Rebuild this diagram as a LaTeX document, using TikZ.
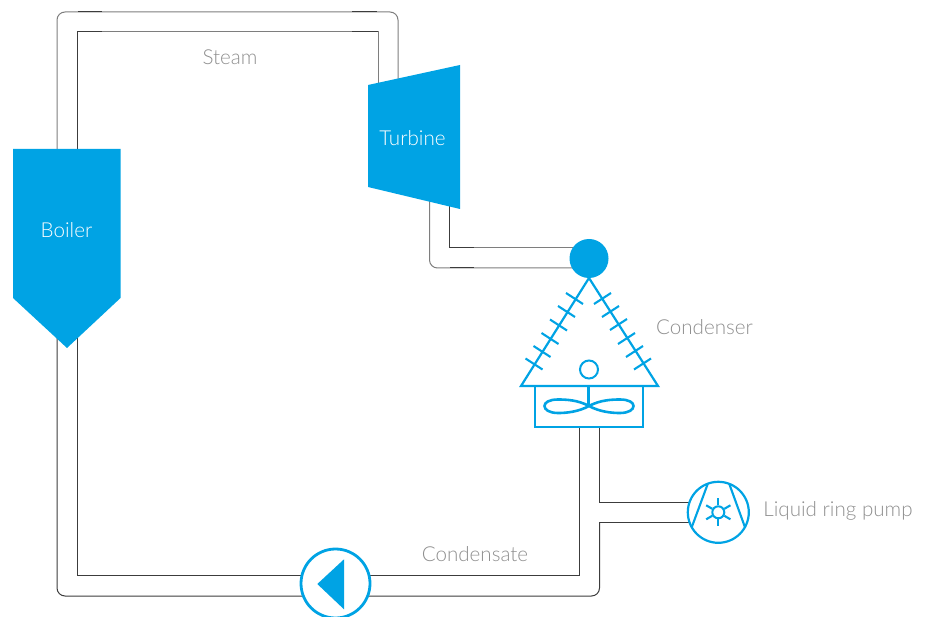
\documentclass[tikz,border=0pt]{standalone}
\usepackage{fontspec}
\setmainfont{Lato Light}
\definecolor{brand}{HTML}{00A3E4}
\definecolor{pipedark}{HTML}{3C3C3C}
\definecolor{pipemid}{HTML}{7E7E7E}
\definecolor{labelgrey}{HTML}{8F8F8F}
\tikzset{
  x=1pt,y=-1pt,
  pipe/.style={draw=pipedark,line width=1pt,line join=miter},
  pipelight/.style={draw=pipemid,line width=1pt},
  solidshape/.style={fill=brand,draw=none},
  outline/.style={draw=brand,line width=2.2pt},
  thinout/.style={draw=brand,line width=2.1pt},
  caption/.style={text=labelgrey,font=\fontsize{20.6}{24}\selectfont,inner sep=0pt},
  whitecaption/.style={text=white,font=\fontsize{20.6}{24}\selectfont,inner sep=0pt},
  fanblade/.style={draw=brand,line width=2.6pt}
}
\begin{document}
\begin{tikzpicture}
\useasboundingbox (0,0) rectangle (928,617);
\clip (0,0) rectangle (928,617);
% named pipe points
\coordinate (boT) at (57,150);
\coordinate (biT) at (77,150);
\coordinate (tlO) at (57,12);
\coordinate (trO) at (398,12);
\coordinate (tlI) at (77,32);
\coordinate (trI) at (378,32);
\coordinate (tuO) at (398,80);
\coordinate (tuI) at (378,90);
\coordinate (boB) at (57,320);
\coordinate (biB) at (77,335);
\coordinate (blO) at (57,596);
\coordinate (blI) at (77,575);
\coordinate (brO) at (599.5,596);
\coordinate (brI) at (579,575);
\coordinate (coI) at (579,428);
\coordinate (coO) at (599.5,428);
\coordinate (jnU) at (599.5,502);
\coordinate (jnD) at (599.5,522);
\coordinate (puU) at (692,502);
\coordinate (puD) at (692,522);
\coordinate (t2O) at (429.5,200);
\coordinate (t2I) at (449.5,200);
\coordinate (c2O) at (429.5,268);
\coordinate (c2I) at (449.5,248);
\coordinate (hdO) at (575,268);
\coordinate (hdI) at (575,248);
% pipes
\draw[pipelight,rounded corners=8pt] (boT) -- (tlO) -- (trO) -- (tuO);
\draw[pipelight] (biT) -- (tlI) -- (trI) -- (tuI);
\draw[pipedark,line width=1pt] (biT) -- (tlI) -- (102,32);
\draw[pipedark,line width=1pt] (352,32) -- (trI);
\draw[pipedark,line width=1pt] (78,12) -- (102,12);
\draw[pipedark,line width=1pt] (352,12) -- (377,12);
\draw[pipe,rounded corners=8pt] (boB) -- (blO) -- (brO) -- (jnD);
\draw[pipe] (jnD) -- (puD);
\draw[pipe] (biB) -- (blI) -- (brI) -- (coI);
\draw[pipe] (coO) -- (jnU) -- (puU);
\draw[pipelight,rounded corners=8pt] (t2O) -- (c2O) -- (hdO);
\draw[pipelight] (t2I) -- (c2I) -- (hdI);
\draw[pipedark,line width=1pt] (t2I) -- (c2I) -- (474,248);
\draw[pipedark,line width=1pt] (450,268) -- (474,268);
% boiler
\path[solidshape] (13,149) -- (120.5,149) -- (120.5,298) -- (67,348) -- (13,298) -- cycle;
\node[whitecaption] (boiler) at (66.5,230) {Boiler};
% turbine
\path[solidshape] (368,85) -- (460,65) -- (460,209) -- (368,187) -- cycle;
\node[whitecaption] (turbine) at (412.5,138) {Turbine};
% header
\node[solidshape,circle,minimum size=39pt,inner sep=0pt] (header) at (589,258.5) {};
% condenser
\draw[outline,line join=miter] (589,278) -- (658,386) -- (521,386) -- cycle;
\foreach \xa/\ya/\xb/\yb in {
 566/293/583/304, 558/306/575/317, 550/319.5/567/330.5,
 541.5/333/558.5/344, 533.5/346/550.5/357, 525.5/358.5/542.5/369.5,
 594/304/611/293, 602/317/619/306, 610/330/627/319,
 618/344/635/333, 626/357/643/346, 634/369.5/651/358.5}
  \draw[thinout] (\xa,\ya) -- (\xb,\yb);
\node[circle,draw=brand,line width=2pt,minimum size=18pt,inner sep=0pt] (condring) at (589,369.5) {};
\draw[outline] (535,386) rectangle (643,427);
\draw[thinout] (588.5,386) -- (588.5,406);
\draw[fanblade] (589,406) .. controls (578,400) and (566,399.5) .. (558,399.5) .. controls (549,399.5) and (544.5,402.5) .. (544.5,406) .. controls (544.5,409.5) and (549,413) .. (558,413) .. controls (566,413) and (578,412) .. (589,406)
  .. controls (600,400) and (612,399.5) .. (620,399.5) .. controls (629,399.5) and (633.5,402.5) .. (633.5,406) .. controls (633.5,409.5) and (629,413) .. (620,413) .. controls (612,413) and (600,412) .. (589,406);
% liquid ring pump
\node[circle,draw=brand,fill=white,line width=2.2pt,minimum size=61pt,inner sep=0pt] (ringpump) at (718.3,512.3) {};
\draw[thinout] (707.7,484) -- (691.7,527.3);
\draw[thinout] (729.3,484) -- (745,527.3);
\node[circle,draw=brand,line width=2pt,minimum size=12pt,inner sep=0pt] (rotor) at (718.3,512.3) {};
\foreach \a in {30,90,150,210,270,330}
  \draw[thinout] (rotor.\a) -- ++({13*cos(\a)-6*cos(\a)},{-(13*sin(\a)-6*sin(\a))});
% condensate pump
\node[circle,draw=brand,fill=white,line width=2.8pt,minimum size=69pt,inner sep=0pt] (feedpump) at (335.5,583.5) {};
\path[solidshape] (317.3,584) -- (344,559.3) -- (344,609.3) -- cycle;
% labels
\node[caption] (steam) at (230,57) {Steam};
\node[caption] (condenser) at (704.5,327) {Condenser};
\node[caption] (condensate) at (475,554) {Condensate};
\node[caption] (lrp) at (838,510.5) {Liquid ring pump};
\end{tikzpicture}
\end{document}
